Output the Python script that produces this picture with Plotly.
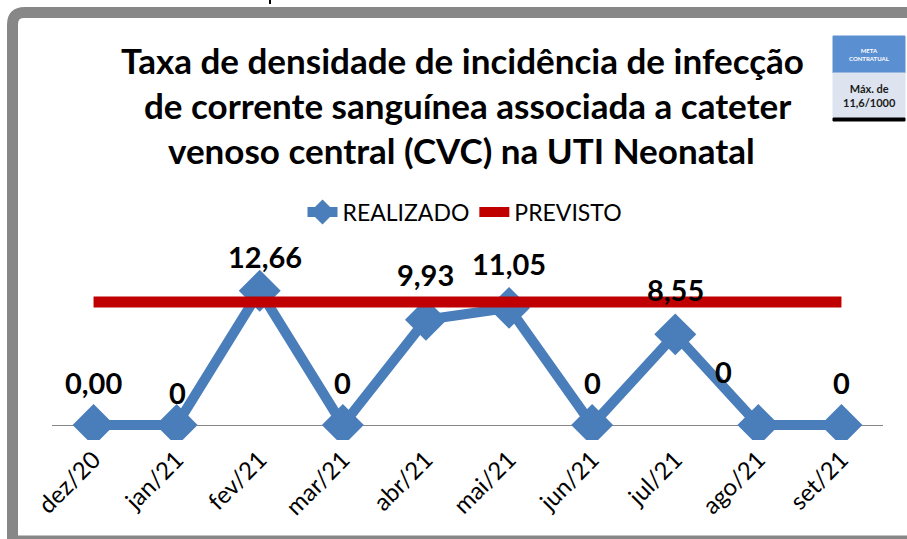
import plotly.graph_objects as go

# ---------------- data ----------------
categories = ["dez/20", "jan/21", "fev/21", "mar/21", "abr/21", "mai/21",
              "jun/21", "jul/21", "ago/21", "set/21"]
realizado = [0, 0, 12.66, 0, 9.93, 11.05, 0, 8.55, 0, 0]
realizado_labels = ["0,00", "0", "12,66", "0", "9,93", "11,05", "0", "8,55", "0", "0"]
previsto = [11.6] * 10

title_lines = ["Taxa de densidade de incidência de infecção",
               "de corrente sanguínea associada a cateter",
               "venoso central (CVC) na UTI Neonatal"]
meta_title = "META<br>CONTRATUAL"
meta_value = "Máx. de<br>11,6/1000"

# ---------------- layout geometry ----------------
W, H = 907, 539
ML, MR, MT, MB = 52, 24, 230, 99
PW, PH = W - ML - MR, H - MT - MB
K = 10.6                     # px per unit
BASE = 425                   # pixel of y=0
ymin = -(H - MB - BASE) / K
ymax = (BASE - MT) / K


def px2x(px):
    return (px - ML) / PW


def px2y(py):
    return (H - MB - py) / PH


FONT = "Lato"
BLUE = "#4A7EBB"
RED = "#C00000"

fig = go.Figure()
fig.add_trace(go.Scatter(
    x=categories, y=realizado, name="REALIZADO", mode="lines+markers",
    line=dict(color=BLUE, width=10),
    marker=dict(symbol="diamond", size=29, color=BLUE,
                line=dict(color=BLUE, width=3)),
))
fig.add_trace(go.Scatter(
    x=categories, y=previsto, name="PREVISTO", mode="lines",
    line=dict(color=RED, width=11),
))

# data labels
label_shift = [(0, 43), (1, 33), (5, 34), (0, 43), (0, 45),
               (0, 44), (0, 43), (0, 45), (-35, 54), (0, 43)]
annotations = []
for c, v, t, (dx, dy) in zip(categories, realizado, realizado_labels, label_shift):
    annotations.append(dict(x=c, y=v, xref="x", yref="y", text=t, showarrow=False,
                            xshift=dx, yshift=dy,
                            font=dict(family=FONT, size=29, color="black", weight="bold")))

# title lines
for line, (cx, cy) in zip(title_lines, [(462, 60), (467, 105), (461, 150)]):
    annotations.append(dict(x=px2x(cx), y=px2y(cy), xref="paper", yref="paper",
                            text=line, showarrow=False, xanchor="center", yanchor="middle",
                            font=dict(family=FONT, size=35, color="black", weight="bold")))

# meta box texts
annotations.append(dict(x=px2x(869), y=px2y(54), xref="paper", yref="paper",
                        text=meta_title, showarrow=False, xanchor="center", yanchor="middle",
                        font=dict(family=FONT, size=6, color="white", weight="bold")))
annotations.append(dict(x=px2x(869), y=px2y(95), xref="paper", yref="paper",
                        text=meta_value, showarrow=False, xanchor="center", yanchor="middle",
                        font=dict(family=FONT, size=11, color="#1a1a1a", weight="bold")))

shapes = []
# outer frame with rounded top-left corner
r = 12
path = (f"M {px2x(12.5)},{px2y(541)} L {px2x(12.5)},{px2y(12.5 + r)} "
        f"Q {px2x(12.5)},{px2y(12.5)} {px2x(12.5 + r)},{px2y(12.5)} "
        f"L {px2x(925)},{px2y(12.5)} L {px2x(925)},{px2y(541)} Z")
shapes.append(dict(type="path", path=path, xref="paper", yref="paper",
                   line=dict(color="#878787", width=11), fillcolor="rgba(0,0,0,0)"))
# tiny mark at top
shapes.append(dict(type="line", xref="paper", yref="paper",
                   x0=px2x(270), x1=px2x(270), y0=px2y(0), y1=px2y(4),
                   line=dict(color="black", width=2)))
# meta box
shapes.append(dict(type="rect", xref="paper", yref="paper",
                   x0=px2x(833), x1=px2x(905), y0=px2y(73), y1=px2y(36),
                   fillcolor="#5A8FD2", line=dict(color="#5A8FD2", width=1)))
shapes.append(dict(type="rect", xref="paper", yref="paper",
                   x0=px2x(833), x1=px2x(905), y0=px2y(118), y1=px2y(73),
                   fillcolor="#DDE4EF", line=dict(color="#DDE4EF", width=1)))
shapes.append(dict(type="rect", xref="paper", yref="paper",
                   x0=px2x(833), x1=px2x(905), y0=px2y(121), y1=px2y(118),
                   fillcolor="black", line=dict(color="black", width=1)))

fig.update_layout(
    width=W, height=H,
    margin=dict(l=ML, r=MR, t=MT, b=MB, autoexpand=False),
    paper_bgcolor="white", plot_bgcolor="white",
    showlegend=True,
    legend=dict(orientation="h", x=px2x(465), y=px2y(212), xanchor="center",
                yanchor="middle", font=dict(family=FONT, size=23, color="black"),
                bgcolor="rgba(0,0,0,0)"),
    xaxis=dict(type="category", range=[-0.5, 9.5], showgrid=False, showline=False,
               zeroline=False, ticks="", tickangle=-45, automargin=False,
               tickfont=dict(family=FONT, size=24, color="black")),
    yaxis=dict(range=[ymin, ymax], showgrid=False, showticklabels=False, automargin=False,
               zeroline=True, zerolinecolor="#868686", zerolinewidth=1, showline=False),
    annotations=annotations,
    shapes=shapes,
)

fig.write_html("out.html", config={"displayModeBar": False},
               post_script="document.body.style.margin='0';document.body.style.overflow='hidden';")
